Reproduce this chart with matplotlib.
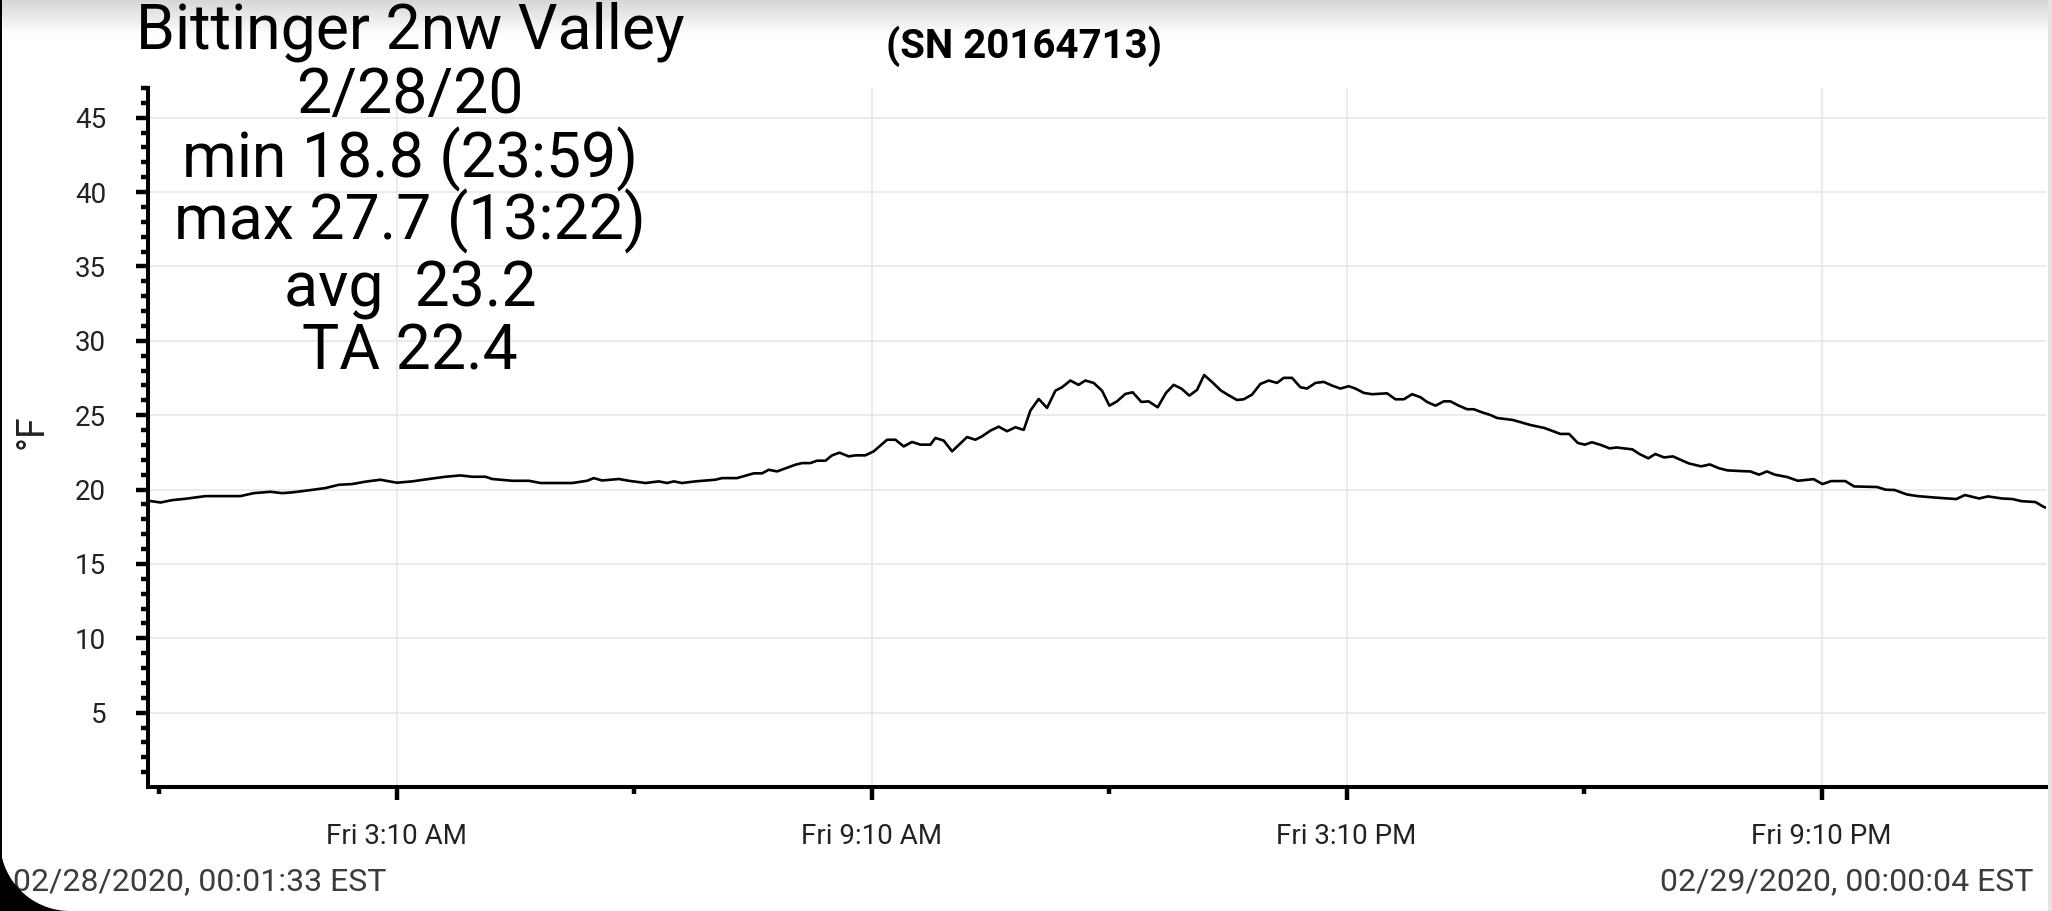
import matplotlib
matplotlib.use('Agg')
import matplotlib.pyplot as plt
import numpy as np
from matplotlib.patches import Polygon, Rectangle

plt.rcParams['font.family'] = ['Roboto', 'DejaVu Sans']

# hours since midnight 2/28/20, temperature in F
hours = [0.026, 0.184, 0.331, 0.50, 0.752, 0.963, 1.194, 1.363, 1.573, 1.72,
         1.847, 2.015, 2.268, 2.436, 2.605, 2.773, 2.96, 3.17, 3.363, 3.573,
         3.783, 3.973, 4.12, 4.29, 4.373, 4.626, 4.836, 4.984, 5.384, 5.573,
         5.657, 5.762, 5.973, 6.099, 6.31, 6.478, 6.583, 6.667, 6.772, 6.94,
         7.193, 7.277, 7.466, 7.677, 7.783, 7.867, 7.972, 8.204, 8.288, 8.393,
         8.477, 8.583, 8.667, 8.76, 8.878, 8.962, 9.088, 9.193, 9.362, 9.467,
         9.572, 9.677, 9.783, 9.909, 9.972, 10.077, 10.183, 10.372, 10.477, 10.562,
         10.667, 10.772, 10.877, 10.983, 11.088, 11.172, 11.277, 11.383, 11.488, 11.572,
         11.677, 11.78, 11.866, 11.971, 12.077, 12.17, 12.266, 12.372, 12.464, 12.574,
         12.666, 12.78, 12.885, 12.982, 13.079, 13.18, 13.277, 13.367, 13.475, 13.58,
         13.677, 13.782, 13.866, 13.971, 14.077, 14.182, 14.288, 14.372, 14.477, 14.583,
         14.667, 14.773, 14.878, 14.983, 15.088, 15.194, 15.278, 15.383, 15.488, 15.678,
         15.783, 15.889, 15.994, 16.099, 16.183, 16.289, 16.394, 16.478, 16.584, 16.689,
         16.773, 16.878, 16.984, 17.068, 17.265, 17.488, 17.665, 17.866, 17.977, 18.087,
         18.176, 18.265, 18.377, 18.488, 18.577, 18.777, 18.866, 18.977, 19.066, 19.177,
         19.288, 19.488, 19.644, 19.755, 19.866, 19.977, 20.155, 20.266, 20.377, 20.475,
         20.577, 20.733, 20.866, 21.066, 21.177, 21.288, 21.466, 21.577, 21.866, 21.977,
         22.088, 22.244, 22.378, 22.578, 22.867, 22.978, 23.156, 23.267, 23.445, 23.579,
         23.69, 23.868, 23.983, 24.001]
temps = [19.25, 19.13, 19.29, 19.38, 19.56, 19.56, 19.56, 19.76, 19.85, 19.76,
         19.81, 19.92, 20.10, 20.32, 20.37, 20.53, 20.66, 20.46, 20.55, 20.71,
         20.86, 20.95, 20.86, 20.86, 20.71, 20.59, 20.59, 20.44, 20.44, 20.59,
         20.77, 20.61, 20.71, 20.59, 20.44, 20.55, 20.44, 20.55, 20.44, 20.55,
         20.66, 20.77, 20.77, 21.09, 21.09, 21.33, 21.22, 21.67, 21.78, 21.78,
         21.94, 21.94, 22.30, 22.48, 22.23, 22.30, 22.30, 22.57, 23.35, 23.35,
         22.90, 23.20, 23.02, 23.02, 23.47, 23.29, 22.57, 23.53, 23.35, 23.58,
         23.96, 24.23, 23.92, 24.19, 24.01, 25.31, 26.09, 25.49, 26.65, 26.88,
         27.33, 27.04, 27.33, 27.17, 26.65, 25.64, 25.93, 26.43, 26.54, 25.89,
         25.93, 25.53, 26.50, 27.04, 26.79, 26.32, 26.70, 27.70, 27.19, 26.65,
         26.34, 26.02, 26.07, 26.38, 27.10, 27.33, 27.17, 27.51, 27.51, 26.88,
         26.79, 27.17, 27.24, 26.99, 26.79, 26.95, 26.79, 26.50, 26.41, 26.47,
         26.07, 26.07, 26.41, 26.21, 25.89, 25.64, 25.93, 25.93, 25.64, 25.40,
         25.40, 25.19, 25.01, 24.81, 24.68, 24.34, 24.14, 23.74, 23.74, 23.13,
         23.02, 23.18, 23.00, 22.77, 22.83, 22.70, 22.39, 22.10, 22.39, 22.16,
         22.23, 21.76, 21.56, 21.69, 21.44, 21.29, 21.24, 21.22, 21.00, 21.22,
         21.00, 20.84, 20.59, 20.70, 20.37, 20.57, 20.57, 20.21, 20.17, 19.99,
         19.97, 19.67, 19.56, 19.47, 19.36, 19.63, 19.40, 19.54, 19.40, 19.36,
         19.22, 19.16, 18.80, 18.80]

major_x = [3 + 10/60, 9 + 10/60, 15 + 10/60, 21 + 10/60]
major_x_labels = ['Fri 3:10 AM', 'Fri 9:10 AM', 'Fri 3:10 PM', 'Fri 9:10 PM']
minor_x = [10/60, 6 + 10/60, 12 + 10/60, 18 + 10/60]
y_ticks = [5, 10, 15, 20, 25, 30, 35, 40, 45]

title_lines = ['Bittinger 2nw Valley', '2/28/20', 'min 18.8 (23:59)',
               'max 27.7 (13:22)', 'avg  23.2', 'TA 22.4']
serial = '(SN 20164713)'
start_stamp = '02/28/2020, 00:01:33 EST'
end_stamp = '02/29/2020, 00:00:04 EST'

W, H = 2052, 911
fig = plt.figure(figsize=(W / 100, H / 100), dpi=100)
fig.patch.set_facecolor('white')

# top shadow strip
sh = fig.add_axes([0, 1 - 36 / H, 1, 36 / H], zorder=-5)
grad = np.linspace(0.84, 1.0, 50).reshape(-1, 1)
sh.imshow(grad, cmap='gray', vmin=0, vmax=1, aspect='auto', extent=[0, 1, 0, 1])
sh.axis('off')

ax = fig.add_axes([148 / W, 1 - 787 / H, (2046 - 148) / W, (787 - 88) / H])
ax.plot(hours, temps, color='black', lw=1.9, zorder=3)

ax.set_xlim(hours[0], hours[-1])
ax.set_ylim(0, 47)
ax.set_xticks(major_x)
ax.set_xticklabels(major_x_labels)
ax.set_xticks(minor_x, minor=True)
ax.set_yticks(y_ticks)
ax.set_yticks(np.arange(1, 48, 1), minor=True)

ax.grid(True, which='major', color='#e8e8e8', lw=1.2)
ax.set_axisbelow(True)
for s in ['top', 'right']:
    ax.spines[s].set_visible(False)
for s in ['left', 'bottom']:
    ax.spines[s].set_linewidth(2.9)
    ax.spines[s].set_color('black')

ax.tick_params(axis='y', which='major', length=9, width=3.2, pad=21,
               labelsize=20, labelcolor='#222222')
ax.tick_params(axis='y', which='minor', length=5, width=3.2)
ax.tick_params(axis='x', which='major', length=9, width=3.2, pad=17,
               labelsize=20, labelcolor='#222222')
ax.tick_params(axis='x', which='minor', length=5, width=3.2)

fig.text(32 / W, 1 - 432 / H, '°F', rotation=90, ha='center', va='center',
         fontsize=27, color='#222222')

baselines = [48, 113, 177, 240, 307, 370]
for line, b in zip(title_lines, baselines):
    fig.text(410 / W, 1 - b / H, line, ha='center', va='baseline',
             fontsize=45, color='black')

fig.text(1024 / W, 1 - 58 / H, serial, ha='center', va='baseline',
         fontsize=29, fontweight='bold', color='black')

fig.text(13 / W, 1 - 890 / H, start_stamp, ha='left', va='baseline',
         fontsize=23, color='#3c3c3c')
fig.text(2033 / W, 1 - 890 / H, end_stamp, ha='right', va='baseline',
         fontsize=23, color='#3c3c3c')

# screen frame bits: left edge, rounded bottom-left corner, right edge
r = 70
th = np.linspace(np.pi, 1.5 * np.pi, 40)
pts = [(0, 0)] + [((r + r * np.cos(a)) / W, (r + r * np.sin(a)) / H) for a in th]
fig.patches.append(Polygon(pts, closed=True, transform=fig.transFigure,
                           facecolor='black', edgecolor='none', zorder=10))
fig.patches.append(Rectangle((0, 0), 2 / W, 1, transform=fig.transFigure,
                             facecolor='black', edgecolor='none', zorder=10))
fig.patches.append(Rectangle((1 - 4 / W, 0), 4 / W, 1, transform=fig.transFigure,
                             facecolor='#e4e4e4', edgecolor='none', zorder=10))

fig.savefig('out.png', dpi=100)
